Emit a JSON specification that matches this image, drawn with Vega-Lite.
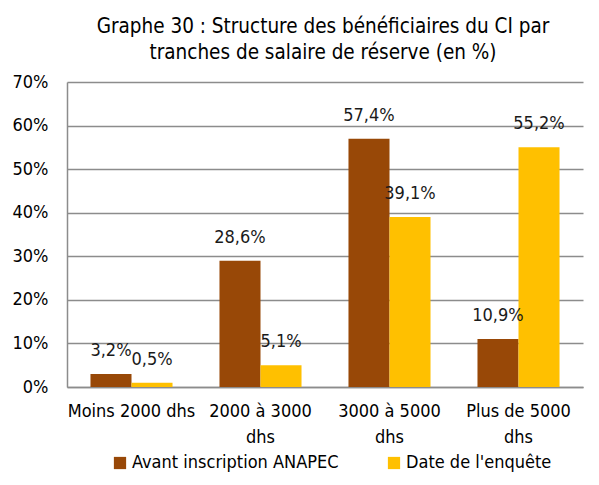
{
  "$schema": "https://vega.github.io/schema/vega-lite/v6.json",
  "width": 516,
  "height": 305,
  "autosize": "none",
  "padding": {"left": 67, "top": 82, "right": 16, "bottom": 98},
  "background": "white",
  "config": {
    "font": "DejaVu Sans Condensed, sans-serif",
    "view": {"stroke": null}
  },
  "title": {
    "text": ["Graphe 30 : Structure des bénéficiaires du CI par", "tranches de salaire de réserve (en %)"],
    "fontSize": 20.5,
    "fontWeight": "normal",
    "color": "black",
    "anchor": "middle",
    "frame": "group",
    "lineHeight": 26,
    "offset": 10,
    "dx": -2
  },
  "data": {
    "values": [
      {"tranche": "Moins 2000 dhs", "serie": "Avant inscription ANAPEC", "valeur": 3, "etiquette": "3,2%"},
      {"tranche": "Moins 2000 dhs", "serie": "Date de l'enquête", "valeur": 1, "etiquette": "0,5%"},
      {"tranche": "2000 à 3000 dhs", "serie": "Avant inscription ANAPEC", "valeur": 29, "etiquette": "28,6%"},
      {"tranche": "2000 à 3000 dhs", "serie": "Date de l'enquête", "valeur": 5, "etiquette": "5,1%"},
      {"tranche": "3000 à 5000 dhs", "serie": "Avant inscription ANAPEC", "valeur": 57, "etiquette": "57,4%"},
      {"tranche": "3000 à 5000 dhs", "serie": "Date de l'enquête", "valeur": 39, "etiquette": "39,1%"},
      {"tranche": "Plus de 5000 dhs", "serie": "Avant inscription ANAPEC", "valeur": 11, "etiquette": "10,9%"},
      {"tranche": "Plus de 5000 dhs", "serie": "Date de l'enquête", "valeur": 55, "etiquette": "55,2%"}
    ]
  },
  "encoding": {
    "x": {
      "field": "tranche",
      "type": "nominal",
      "sort": null,
      "title": null,
      "scale": {"paddingInner": 0.364, "paddingOuter": 0.182},
      "axis": {
        "labelAngle": 0,
        "labelFontSize": 18,
        "labelColor": "black",
        "labelPadding": 15,
        "labelLineHeight": 26,
        "ticks": false,
        "domainColor": "#8c8c8c",
        "domainWidth": 1.5,
        "labelExpr": "datum.value == 'Moins 2000 dhs' ? datum.value : [replace(datum.value, ' dhs', ''), 'dhs']"
      }
    },
    "xOffset": {"field": "serie", "type": "nominal", "sort": null},
    "y": {
      "field": "valeur",
      "type": "quantitative",
      "title": null,
      "scale": {"domain": [0, 70]},
      "axis": {
        "values": [0, 10, 20, 30, 40, 50, 60, 70],
        "labelExpr": "datum.value + '%'",
        "labelFontSize": 18,
        "labelColor": "black",
        "labelPadding": 19,
        "ticks": false,
        "gridColor": "#8c8c8c",
        "gridWidth": 1.5,
        "domain": true,
        "domainColor": "#8c8c8c",
        "domainWidth": 1.5
      }
    }
  },
  "layer": [
    {
      "mark": {"type": "bar"},
      "encoding": {
        "color": {
          "field": "serie",
          "type": "nominal",
          "sort": null,
          "scale": {"domain": ["Avant inscription ANAPEC", "Date de l'enquête"], "range": ["#984807", "#FFC000"]},
          "legend": {
            "title": null,
            "orient": "none",
            "direction": "horizontal",
            "legendX": 44,
            "legendY": 372,
            "labelFontSize": 18,
            "labelColor": "black",
            "labelLimit": 400,
            "symbolType": "square",
            "symbolSize": 150,
            "symbolStrokeWidth": 0,
            "symbolOpacity": 1,
            "labelOffset": 3,
            "columnPadding": 46
          }
        }
      }
    },
    {
      "mark": {"type": "text", "fontSize": 18, "baseline": "middle", "dy": -23, "color": "#1a1a1a"},
      "encoding": {"text": {"field": "etiquette"}}
    }
  ]
}
